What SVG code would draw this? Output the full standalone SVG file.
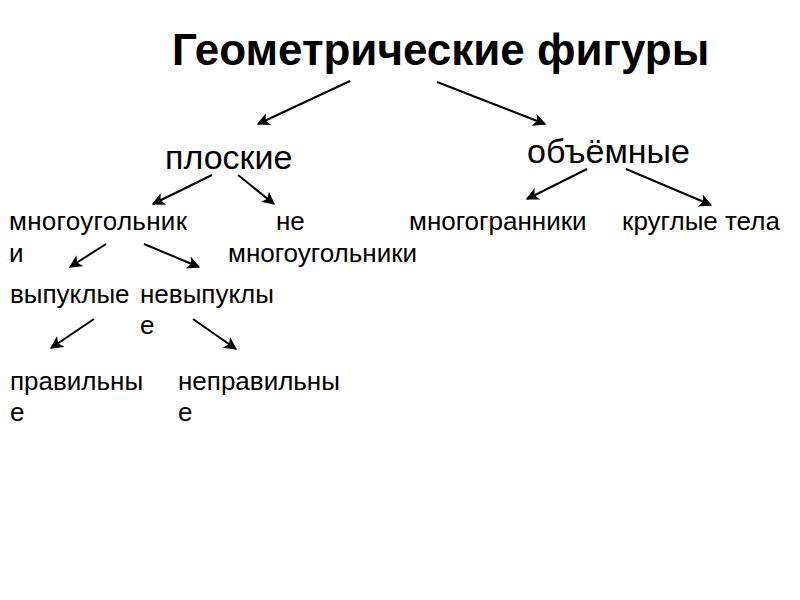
<svg xmlns="http://www.w3.org/2000/svg" width="800" height="600" viewBox="0 0 800 600">
<defs>
<marker id="ah" viewBox="0 0 10 10" refX="9" refY="5" markerWidth="6.5" markerHeight="6.5" markerUnits="strokeWidth" orient="auto">
<path d="M0,0 L10,5 L0,10 L2.5,5 Z" fill="#000"/>
</marker>
<style>
text{font-family:"Liberation Sans",Arial,sans-serif;fill:#000}
.t{font-size:44px;font-weight:bold}
.m{font-size:34px}
.s{font-size:26px}
.c line{stroke:#000;stroke-width:2;marker-end:url(#ah)}
</style>
</defs>
<rect width="800" height="600" fill="#fff"/>
<g id="n-title"><text class="t" x="172" y="65">Геометрические фигуры</text></g>
<g id="n-flat"><text class="m" x="165" y="169">плоские</text></g>
<g id="n-solid"><text class="m" x="527" y="163">объёмные</text></g>
<g id="n-poly"><text class="s" x="9" y="230" textLength="178">многоугольник</text><text class="s" x="9" y="262">и</text></g>
<g id="n-nonpoly"><text class="s" x="276" y="230">не</text><text class="s" x="228" y="262">многоугольники</text></g>
<g id="n-polyhedra"><text class="s" x="409" y="230">многогранники</text></g>
<g id="n-round"><text class="s" x="622" y="230">круглые тела</text></g>
<g id="n-convex"><text class="s" x="10" y="303">выпуклые</text></g>
<g id="n-nonconvex"><text class="s" x="140" y="303">невыпуклы</text><text class="s" x="140" y="334">е</text></g>
<g id="n-regular"><text class="s" x="10" y="390">правильны</text><text class="s" x="10" y="421">е</text></g>
<g id="n-irregular"><text class="s" x="178" y="390">неправильны</text><text class="s" x="178" y="421">е</text></g>
<g id="connectors" class="c">
<line x1="350" y1="81" x2="258" y2="124"/>
<line x1="437" y1="82" x2="545" y2="124"/>
<line x1="212" y1="175" x2="153" y2="204"/>
<line x1="238" y1="175" x2="274" y2="204"/>
<line x1="587" y1="169" x2="527" y2="199"/>
<line x1="626" y1="169" x2="711" y2="205"/>
<line x1="106" y1="244" x2="70" y2="267"/>
<line x1="144" y1="244" x2="199" y2="267"/>
<line x1="94" y1="319" x2="51" y2="348"/>
<line x1="193" y1="319" x2="236" y2="349"/>
</g>
</svg>
